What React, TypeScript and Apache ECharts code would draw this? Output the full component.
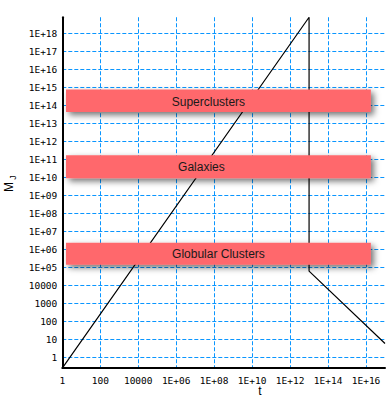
import React, { useEffect, useRef } from "react";
import * as echarts from "echarts";

// Jeans mass curve (t, M_J)
const tValues = [1, 1e13, 1e13, 1e17];
const mValues = [0.26, 8e18, 6.3e4, 6];

// axis extents
const T_MIN = 1;
const T_MAX = 1e17;
const M_MIN = 0.26;
const M_MAX = 8e18;

// tick exponents
const xTickExps = [0, 2, 4, 6, 8, 10, 12, 14, 16];
const yTickExps = [0, 1, 2, 3, 4, 5, 6, 7, 8, 9, 10, 11, 12, 13, 14, 15, 16, 17, 18];

// annotation bands
const bandNames = ["Superclusters", "Galaxies", "Globular Clusters"];
const bandLow = [4.3e13, 9.2e9, 1.4e5];
const bandHigh = [7.8e14, 1.7e11, 2.4e6];
const bandTStart = 1.57;
const bandTEnd = 1.8e16;

// styling
const LABEL_DX = [-10, -17, 0];
const LABEL_DY = [1.5, 0, 0];

function fmt(v: number): string {
  const e = Math.round(v);
  if (e < 5) return String(Math.pow(10, e));
  return "1E+" + (e < 10 ? "0" + e : String(e));
}

export default function App() {
  const ref = useRef<HTMLDivElement>(null);
  useEffect(() => {
    if (!ref.current) return;
    const chart = echarts.init(ref.current, null, { renderer: "svg" });
    const lg = Math.log10;
    const lineData = tValues.map((t, i) => [lg(t), lg(mValues[i])]);
    const bandData = bandNames.map((_, i) => [
      lg(bandTStart),
      lg(bandTEnd),
      lg(bandLow[i]),
      lg(bandHigh[i]),
    ]);
    const gridLine = {
      show: true,
      lineStyle: { color: "#0a96ff", width: 1, type: [4, 2] as any },
    };
    const labelStyle = {
      fontFamily: "DejaVu Sans Mono",
      fontSize: 9.5,
      color: "#000",
      formatter: (v: number) => fmt(v),
    };
    // place y = 1 at pixel row 357.5 with 18 px per decade
    const pxPerDecade = 18;
    const y0 = 357.5;
    const gridTop = y0 - (lg(M_MAX) * pxPerDecade);
    const gridBottomPx = y0 - (lg(M_MIN) * pxPerDecade);
    chart.setOption({
      animation: false,
      backgroundColor: "#fff",
      grid: {
        left: 62.3,
        right: 6,
        top: gridTop,
        bottom: 405 - gridBottomPx,
        containLabel: false,
        outerBoundsMode: "none",
      },
      xAxis: {
        type: "value",
        min: lg(T_MIN),
        max: lg(T_MAX),
        axisLine: { show: true, onZero: false, lineStyle: { color: "#000", width: 2 } },
        axisTick: { show: false, customValues: xTickExps },
        axisLabel: { ...labelStyle, margin: 7, customValues: xTickExps },
        splitLine: gridLine,
      },
      yAxis: {
        type: "value",
        min: lg(M_MIN),
        max: lg(M_MAX),
        axisLine: { show: true, onZero: false, lineStyle: { color: "#000", width: 2 } },
        axisTick: { show: false, customValues: yTickExps },
        axisLabel: { ...labelStyle, margin: 5, customValues: yTickExps },
        splitLine: gridLine,
      },
      graphic: [
        {
          type: "text",
          x: 260,
          y: 391,
          style: {
            text: "t",
            fontFamily: "Liberation Sans",
            fontSize: 12,
            fill: "#000",
            align: "center",
            verticalAlign: "middle",
          },
        },
        {
          type: "text",
          x: 9,
          y: 187,
          rotation: Math.PI / 2,
          style: {
            text: "M",
            fontFamily: "Liberation Sans",
            fontSize: 12,
            fill: "#000",
            align: "center",
            verticalAlign: "middle",
          },
        },
        {
          type: "text",
          x: 13,
          y: 177.5,
          rotation: Math.PI / 2,
          style: {
            text: "J",
            fontFamily: "Liberation Sans",
            fontSize: 9,
            fill: "#000",
            align: "center",
            verticalAlign: "middle",
          },
        },
      ],
      series: [
        {
          type: "line",
          data: lineData,
          symbol: "none",
          z: 2,
          lineStyle: { color: "#000", width: 1.2 },
        },
        {
          type: "custom",
          z: 5,
          data: bandData,
          renderItem: (params: any, api: any) => {
            const i = params.dataIndex;
            const p0 = api.coord([api.value(0), api.value(3)]);
            const p1 = api.coord([api.value(1), api.value(2)]);
            const cx = (p0[0] + p1[0]) / 2;
            const cy = (p0[1] + p1[1]) / 2;
            return {
              type: "group",
              children: [
                {
                  type: "rect",
                  shape: { x: p0[0], y: p0[1], width: p1[0] - p0[0], height: p1[1] - p0[1] },
                  style: {
                    fill: "#ff686c",
                    shadowBlur: 6,
                    shadowOffsetX: 3,
                    shadowOffsetY: 3,
                    shadowColor: "rgba(0,0,0,0.55)",
                  },
                },
                {
                  type: "text",
                  x: cx + LABEL_DX[i],
                  y: cy + LABEL_DY[i],
                  style: {
                    text: bandNames[i],
                    fontFamily: "Liberation Sans",
                    fontSize: 12,
                    fill: "#1a1a1a",
                    align: "center",
                    verticalAlign: "middle",
                  },
                },
              ],
            };
          },
        },
      ],
    });
    return () => chart.dispose();
  }, []);
  return (
    <div
      ref={ref}
      style={{ position: "fixed", left: 0, top: 0, width: 391, height: 405 }}
    />
  );
}
